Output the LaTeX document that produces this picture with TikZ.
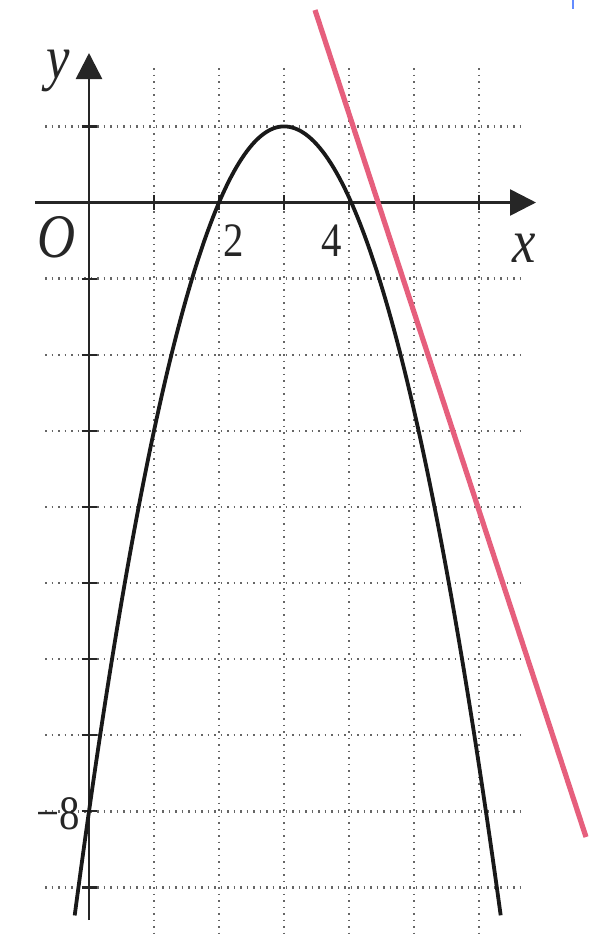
\documentclass[tikz,border=0pt]{standalone}
\usepackage{fontspec}
\setmainfont{Liberation Serif}
\usepackage{graphicx}
\usetikzlibrary{arrows.meta}
\definecolor{redline}{RGB}{230,95,125}
\definecolor{bluemark}{RGB}{100,140,255}
\newcommand{\sqz}[1]{\scalebox{0.85}[1]{#1}}
\tikzset{
  gridline/.style={line width=1.2pt, black!60, dash pattern=on 0.9pt off 2.35pt},
  axisline/.style={line width=1.3pt, black!85, -{Triangle[length=13pt,width=13pt]}},
  tickmark/.style={line width=1.1pt, black!85},
  curveline/.style={line width=1.9pt, black!90, line join=round},
  redstroke/.style={line width=2.6pt, redline},
  letterlab/.style={inner sep=0pt, text=black!85, font=\fontsize{31}{31}\selectfont\itshape},
  digitlab/.style={inner sep=0pt, text=black!85, font=\fontsize{24}{24}\selectfont},
}
\begin{document}
\begin{tikzpicture}[x=0.5pt,y=-0.5pt]
\useasboundingbox (0,0) rectangle (589,938);
% grid
\foreach \k in {1,...,6} \draw[gridline] ({89+65*\k},68) -- ({89+65*\k},938);
\foreach \k in {1,-1,-2,-3,-4,-5,-6,-7,-8,-9} \draw[gridline] (45,{202.5-76.1*\k}) -- (524,{202.5-76.1*\k});
% axes
\coordinate (xs) at (35,202.5);
\coordinate (xe) at (536,202.5);
\coordinate (ys) at (89,920);
\coordinate (ye) at (89,53);
\draw[axisline] (xs) -- (xe);
\draw[axisline] (ys) -- (ye);
% ticks
\foreach \k in {1,...,6} \draw[tickmark] ({89+65*\k},195) -- ({89+65*\k},210);
\foreach \k in {1,-1,-2,-3,-4,-5,-6,-7,-8,-9} \draw[tickmark] (81.5,{202.5-76.1*\k}) -- (96.5,{202.5-76.1*\k});
% parabola
\draw[curveline] plot[domain=-3.22:0,samples=80] ({284+65*\x},{202.5+76.1*(\x*\x-1)})
  -- plot[domain=0:3.22,samples=80] ({284+67.3*\x},{202.5+76.1*(\x*\x-1)});
% red line
\coordinate (ra) at (315,10);
\coordinate (rb) at (586,837);
\draw[redstroke] (ra) -- (rb);
% blue mark
\coordinate (ba) at (573,0);
\coordinate (bb) at (573,9);
\draw[line width=1.2pt, bluemark] (ba) -- (bb);
% labels
\node[letterlab, anchor=base] (ylab) at (58,78) {\sqz{y}};
\node[letterlab, anchor=base] (xlab) at (524,262) {\sqz{x}};
\node[letterlab, anchor=base] (olab) at (57,257) {\sqz{O}};
\node[digitlab, anchor=base] (two) at (234,256) {\sqz{2}};
\node[digitlab, anchor=base] (four) at (332,256) {\sqz{4}};
\node[digitlab, anchor=base east] (meight) at (80,829) {\sqz{−8}};
\end{tikzpicture}
\end{document}
